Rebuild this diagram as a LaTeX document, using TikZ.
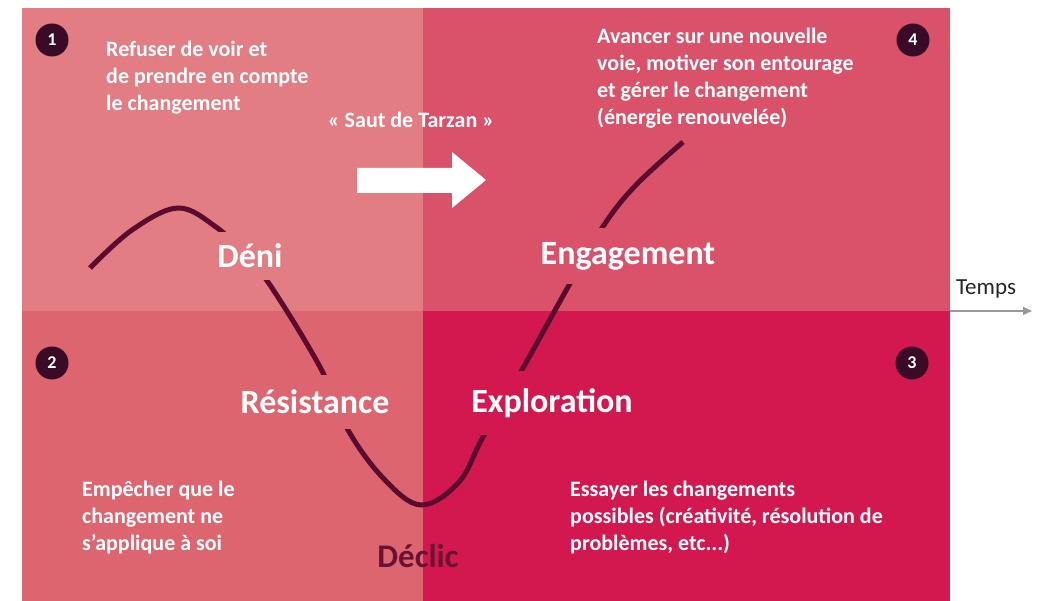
\documentclass[tikz,border=0pt]{standalone}
\usepackage{fontspec}
\setmainfont{Carlito}
\usetikzlibrary{arrows.meta}
\definecolor{qone}{HTML}{E17D83}
\definecolor{qfour}{HTML}{D9526A}
\definecolor{qtwo}{HTML}{DC6570}
\definecolor{qthree}{HTML}{D2184E}
\definecolor{circ}{HTML}{3A0B26}
\definecolor{curvec}{HTML}{5B0B2E}
\definecolor{declic}{HTML}{6B1133}
\tikzset{
  desc/.style={align=left, anchor=north west, inner sep=0pt, text=white,
    font=\bfseries\fontsize{22}{27}\selectfont},
  phase/.style={inner xsep=3pt, text=white, font=\bfseries\fontsize{34}{38}\selectfont},
  num/.style={circle, fill=circ, minimum size=33pt, inner sep=0pt, text=white,
    font=\bfseries\fontsize{18}{18}\selectfont},
  curveline/.style={draw=curvec, line width=5pt},
}
\begin{document}
\begin{tikzpicture}[x=1pt, y=-1pt]
\useasboundingbox (0,0) rectangle (1041,601);
\fill[white] (0,0) rectangle (1041,601);
% quadrants
\fill[qone] (22,8) rectangle (423,311);
\fill[qfour] (423,8) rectangle (950,311);
\fill[qtwo] (22,311) rectangle (423,601);
\fill[qthree] (423,311) rectangle (950,601);
% curve
\draw[curveline] plot[smooth, tension=0.6] coordinates {
  (90,268) (132,230) (178,208) (216,227) (243,253) (270,285) (320,367)
  (348,430) (384,479) (421,505) (459,482) (483,437) (523,368) (568,287)
  (604,225) (636,185) (683,142)};
% phase labels (filled to open the curve)
\node[phase, fill=qone, inner ysep=12pt] (deni) at (250,256) {Déni};
\node[phase, fill=qfour, inner ysep=14pt] (engagement) at (628,256) {Engagement};
\node[phase, fill=qtwo, inner ysep=15pt] (resistance) at (315,402) {Résistance};
\node[phase, fill=qthree, inner ysep=17pt] (exploration) at (552,403) {Exploration};
\node[text=declic, font=\bfseries\fontsize{33}{36}\selectfont] (declic) at (418,556) {Déclic};
% numbered circles
\node[num] (n1) at (52,40) {1};
\node[num] (n4) at (913,40) {4};
\node[num] (n2) at (52,363) {2};
\node[num] (n3) at (912,363) {3};
% descriptions
\node[desc] (t1) at (106,41) {Refuser de voir et\\de prendre en compte\\le changement};
\node[desc] (t4) at (597,28) {Avancer sur une nouvelle\\voie, motiver son entourage\\et gérer le changement\\(énergie renouvelée)};
\node[desc] (t2) at (82,481) {Empêcher que le\\changement ne\\s’applique à soi};
\node[desc] (t3) at (570,481) {Essayer les changements\\possibles (créativité, résolution de\\problèmes, etc...)};
% Saut de Tarzan
\node[text=white, font=\bfseries\fontsize{22}{26}\selectfont] (saut) at (411,120) {« Saut de Tarzan »};
\fill[white] (357,168) -- (452,168) -- (452,152) -- (486,180) -- (452,208) -- (452,193) -- (357,193) -- cycle;
% time axis
\coordinate (axstart) at (950,311);
\coordinate (axend) at (1032,311);
\draw[draw=gray!80, line width=1.2pt, -{Triangle[length=9pt,width=8pt]}] (axstart) -- (axend);
\node[text=black!85, font=\fontsize{23}{26}\selectfont] (temps) at (986,289) {Temps};
\end{tikzpicture}
\end{document}
